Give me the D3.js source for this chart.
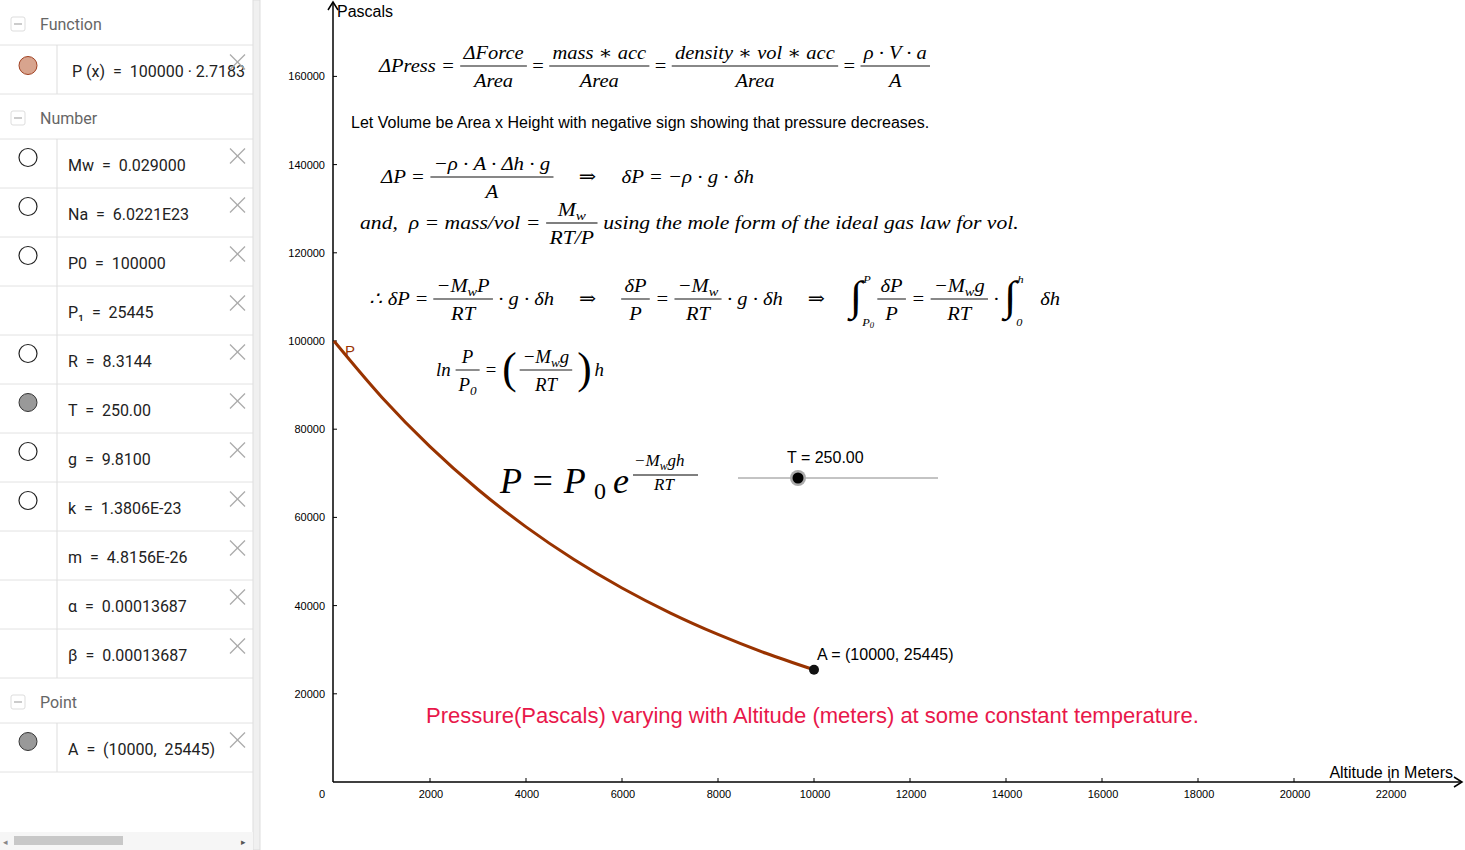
<!DOCTYPE html>
<html><head><meta charset="utf-8">
<script src="https://cdn.jsdelivr.net/npm/d3@7"></script>
<style>body{margin:0;background:#fff;overflow:hidden}svg{display:block}text{white-space:pre}</style>
</head><body>
<svg id="c" width="1465" height="850"></svg>
<script>
// ---- data ----
const altitudes = [0,1000,2000,3000,4000,5000,6000,7000,8000,9000,10000];
const pressures = [100000,87210,76060,66330,57850,50450,44000,38370,33470,29190,25445];
const pointA = [10000,25445];
const xTicks = [0,2000,4000,6000,8000,10000,12000,14000,16000,18000,20000,22000];
const yTicks = [20000,40000,60000,80000,100000,120000,140000,160000];
const algebraRows = [
  {type:"h", label:"Function"},
  {type:"r", icon:"fn", text:"P (x)  =  100000 · 2.7183"},
  {type:"h", label:"Number"},
  {type:"r", icon:"o", text:"Mw  =  0.029000"},
  {type:"r", icon:"o", text:"Na  =  6.0221E23"},
  {type:"r", icon:"o", text:"P0  =  100000"},
  {type:"r", icon:"", text:"P₁  =  25445"},
  {type:"r", icon:"o", text:"R  =  8.3144"},
  {type:"r", icon:"g", text:"T  =  250.00"},
  {type:"r", icon:"o", text:"g  =  9.8100"},
  {type:"r", icon:"o", text:"k  =  1.3806E-23"},
  {type:"r", icon:"", text:"m  =  4.8156E-26"},
  {type:"r", icon:"", text:"α  =  0.00013687"},
  {type:"r", icon:"", text:"β  =  0.00013687"},
  {type:"h", label:"Point"},
  {type:"r", icon:"g", text:"A  =  (10000,  25445)"}
];

const svg = d3.select("#c");
// ---- left panel ----
const lp = svg.append("g");
let y = 0;
algebraRows.forEach(r => {
  const h = r.type==="h" ? 45 : 49;
  if (r.type==="h") {
    lp.append("rect").attr("x",11).attr("y",y+17).attr("width",14).attr("height",14).attr("rx",2).attr("fill","none").attr("stroke","#ddd");
    lp.append("line").attr("x1",14).attr("x2",22).attr("y1",y+24).attr("y2",y+24).attr("stroke","#999");
    lp.append("text").attr("x",40).attr("y",y+30).attr("font-family","Roboto, sans-serif").attr("font-size",16).attr("fill","#666").text(r.label);
  } else {
    lp.append("line").attr("x1",57).attr("x2",57).attr("y1",y).attr("y2",y+h).attr("stroke","#ddd");
    const cy = y+h/2-1;
    if (r.icon==="fn") lp.append("circle").attr("cx",28).attr("cy",cy-3).attr("r",9).attr("fill","#d8a48e").attr("stroke","#a04020");
    if (r.icon==="o") lp.append("circle").attr("cx",28).attr("cy",cy-5).attr("r",9).attr("fill","#fff").attr("stroke","#222").attr("stroke-width",1.2);
    if (r.icon==="g") lp.append("circle").attr("cx",28).attr("cy",cy-5).attr("r",9).attr("fill","#999").attr("stroke","#333");
    lp.append("text").attr("x",r.icon==="fn"?72:68).attr("y",cy+8).attr("font-family","Roboto, sans-serif").attr("font-size",16).attr("fill","#222").text(r.text);
    const xg = lp.append("g").attr("stroke","#aaa").attr("stroke-width",1.3);
    xg.append("line").attr("x1",230).attr("x2",245).attr("y1",cy-14).attr("y2",cy+1);
    xg.append("line").attr("x1",245).attr("x2",230).attr("y1",cy-14).attr("y2",cy+1);
  }
  y += h;
  lp.append("line").attr("x1",0).attr("x2",253).attr("y1",y).attr("y2",y).attr("stroke","#e2e2e2");
});
lp.append("rect").attr("x",253).attr("y",0).attr("width",7).attr("height",850).attr("fill","#f0f0f0").attr("stroke","#ddd");
lp.append("rect").attr("x",0).attr("y",832).attr("width",253).attr("height",18).attr("fill","#f6f6f6");
lp.append("rect").attr("x",14).attr("y",836).attr("width",109).attr("height",9).attr("fill","#c8c8c8");
lp.append("text").attr("x",3).attr("y",845).attr("font-size",9).attr("fill","#888").text("◂");
lp.append("text").attr("x",241).attr("y",845).attr("font-size",9).attr("fill","#555").text("▸");

// ---- chart ----
const x = d3.scaleLinear().domain([0,10000]).range([334,814]);
const yS = d3.scaleLinear().domain([0,100000]).range([782,341]);
const ax = svg.append("g").attr("font-family","Arial, sans-serif");
ax.append("line").attr("x1",333).attr("x2",1462).attr("y1",782).attr("y2",782).attr("stroke","#000").attr("stroke-width",1.5);
ax.append("path").attr("d","M1454,777 L1462,782 L1454,787").attr("fill","none").attr("stroke","#000").attr("stroke-width",1.5);
ax.append("line").attr("x1",333).attr("x2",333).attr("y1",782).attr("y2",2).attr("stroke","#000").attr("stroke-width",1.5);
ax.append("path").attr("d","M328,10 L333,2 L338,10").attr("fill","none").attr("stroke","#000").attr("stroke-width",1.5);
xTicks.forEach(t=>{
  if(t>0) ax.append("line").attr("x1",x(t)).attr("x2",x(t)).attr("y1",782).attr("y2",778).attr("stroke","#000");
  ax.append("text").attr("x",t===0?322:x(t)+1).attr("y",798).attr("text-anchor","middle").attr("font-size",11).text(t);
});
yTicks.forEach(t=>{
  ax.append("line").attr("x1",333).attr("x2",337).attr("y1",yS(t)).attr("y2",yS(t)).attr("stroke","#000");
  ax.append("text").attr("x",325).attr("y",yS(t)+4).attr("text-anchor","end").attr("font-size",11).text(t);
});
ax.append("text").attr("x",337).attr("y",17).attr("font-size",16).text("Pascals");
ax.append("text").attr("x",1453).attr("y",778).attr("text-anchor","end").attr("font-size",16).text("Altitude in Meters");

const line = d3.line().x((d,i)=>x(altitudes[i])).y(d=>yS(d)).curve(d3.curveMonotoneX);
svg.append("path").datum(pressures).attr("d",line).attr("fill","none").attr("stroke","#993300").attr("stroke-width",3);
svg.append("text").attr("x",345).attr("y",356).attr("font-family","Arial").attr("font-size",15).attr("fill","#993300").text("P");
svg.append("circle").attr("cx",x(pointA[0])).attr("cy",yS(pointA[1])).attr("r",5).attr("fill","#111");
svg.append("text").attr("x",817).attr("y",660).attr("font-family","Arial").attr("font-size",16).text(`A = (${pointA[0]}, ${pointA[1]})`);

svg.append("text").attr("x",426).attr("y",723).attr("font-family","Arial").attr("font-size",22).attr("fill","#e8174a").text("Pressure(Pascals) varying with Altitude (meters) at some constant temperature.");
svg.append("text").attr("x",351).attr("y",128).attr("font-family","Arial").attr("font-size",16).text("Let Volume be Area x Height with negative sign showing that pressure decreases.");

// slider
svg.append("line").attr("x1",738).attr("x2",938).attr("y1",478).attr("y2",478).attr("stroke","#888");
svg.append("circle").attr("cx",798).attr("cy",478).attr("r",8).attr("fill","#aaa");
svg.append("circle").attr("cx",798).attr("cy",478).attr("r",5.5).attr("fill","#000");
svg.append("text").attr("x",787).attr("y",463).attr("font-family","Arial").attr("font-size",16).text("T = 250.00");

// ---- math layout ----
const SERIF = "'Liberation Serif', 'DejaVu Serif', serif";
function txt(g, x0, yb, s, fs, italic) {
  const t = g.append("text").attr("x",x0).attr("y",yb).attr("font-family",SERIF).attr("font-size",fs).attr("font-style",italic?"italic":"normal");
  const parts = s.split(/(_\{[^}]*\})/);
  let cur = 0;
  parts.forEach(p=>{
    if(!p) return;
    if(p.startsWith("_{")) { t.append("tspan").attr("font-size",fs*0.7).attr("dy",fs*0.22-cur).text(p.slice(2,-1)); cur=fs*0.22; }
    else { t.append("tspan").attr("dy",-cur).text(p); cur=0; }
  });
  return t.node().getComputedTextLength();
}
function row(x0, yc, items, fs, target) {
  const g = svg.append("g");
  let cx = x0;
  const yb = yc + fs*0.32;
  items.forEach(it=>{
    if (typeof it === "number") { cx += it; return; }
    if (it.f) {
      const tmp = svg.append("g");
      const w1 = txt(tmp,0,0,it.f[0],fs,true), w2 = txt(tmp,0,0,it.f[1],fs,true);
      tmp.remove();
      const w = Math.max(w1,w2)+6;
      txt(g, cx+(w-w1)/2, yc-fs*0.38, it.f[0], fs, true);
      txt(g, cx+(w-w2)/2, yc+fs*1.08, it.f[1], fs, true);
      g.append("line").attr("x1",cx).attr("x2",cx+w).attr("y1",yc).attr("y2",yc).attr("stroke","#000").attr("stroke-width",0.9);
      cx += w + 5;
    } else if (it.int) {
      const w = txt(g, cx, yc+fs*0.6, "∫", fs*2.2, false);
      txt(g, cx+w+1, yc-fs*0.85, it.int[0], fs*0.6, true);
      txt(g, cx+w, yc+fs*1.4, it.int[1], fs*0.6, true);
      cx += w + 14;
    } else if (it.p) {
      cx += txt(g, cx, yc+fs*0.7, it.p, fs*2.3, false) + 3;
    } else {
      cx += txt(g, cx, yb, it.t, fs, !it.n) + 5;
    }
  });
  const w = cx - 5 - x0;
  const sx = target ? (target - x0)/w : 1;
  g.attr("transform",`translate(${x0},0) scale(${sx},1) translate(${-x0},0)`);
  return g;
}
const fs = 19;
row(379, 66, [{t:"ΔPress ="},{f:["ΔForce","Area"]},{t:"=",n:1},{f:["mass ∗ acc","Area"]},{t:"=",n:1},{f:["density ∗ vol ∗ acc","Area"]},{t:"=",n:1},{f:["ρ · V · a","A"]}], fs, 930);
row(381, 177, [{t:"ΔP ="},{f:["−ρ · A · Δh · g","A"]},18,{t:"⇒",n:1},18,{t:"δP = −ρ · g · δh"}], fs, 754);
row(360, 223, [{t:"and,  ρ = mass/vol ="},{f:["M_{w}","RT/P"]},{t:"using the mole form of the ideal gas law for vol."}], fs, 1019);
row(369, 299, [{t:"∴ δP ="},{f:["−M_{w}P","RT"]},{t:"· g · δh"},18,{t:"⇒",n:1},18,{f:["δP","P"]},{t:"="},{f:["−M_{w}","RT"]},{t:"· g · δh"},18,{t:"⇒",n:1},18,{int:["P","P_{0}"]},{f:["δP","P"]},{t:"="},{f:["−M_{w}g","RT"]},{t:"·"},{int:["h","0"]},8,{t:"δh"}], fs, 1060);
row(436, 370, [{t:"ln"},{f:["P","P_{0}"]},{t:"="},{p:"("},{f:["−M_{w}g","RT"]},{p:")"},{t:"h"}], fs, 604);
// big formula
const bg = svg.append("g");
txt(bg, 500, 493, "P = P", 36, true);
txt(bg, 594, 499, "0", 24, false);
bg.append("text").attr("x",613).attr("y",493).attr("font-family",SERIF).attr("font-style","italic").attr("font-size",36).text("e");
txt(bg, 634, 466, "−M_{w}gh", 17, true);
bg.append("line").attr("x1",633).attr("x2",698).attr("y1",475).attr("y2",475).attr("stroke","#000");
txt(bg, 654, 490, "RT", 17, true);
</script>
</body></html>
